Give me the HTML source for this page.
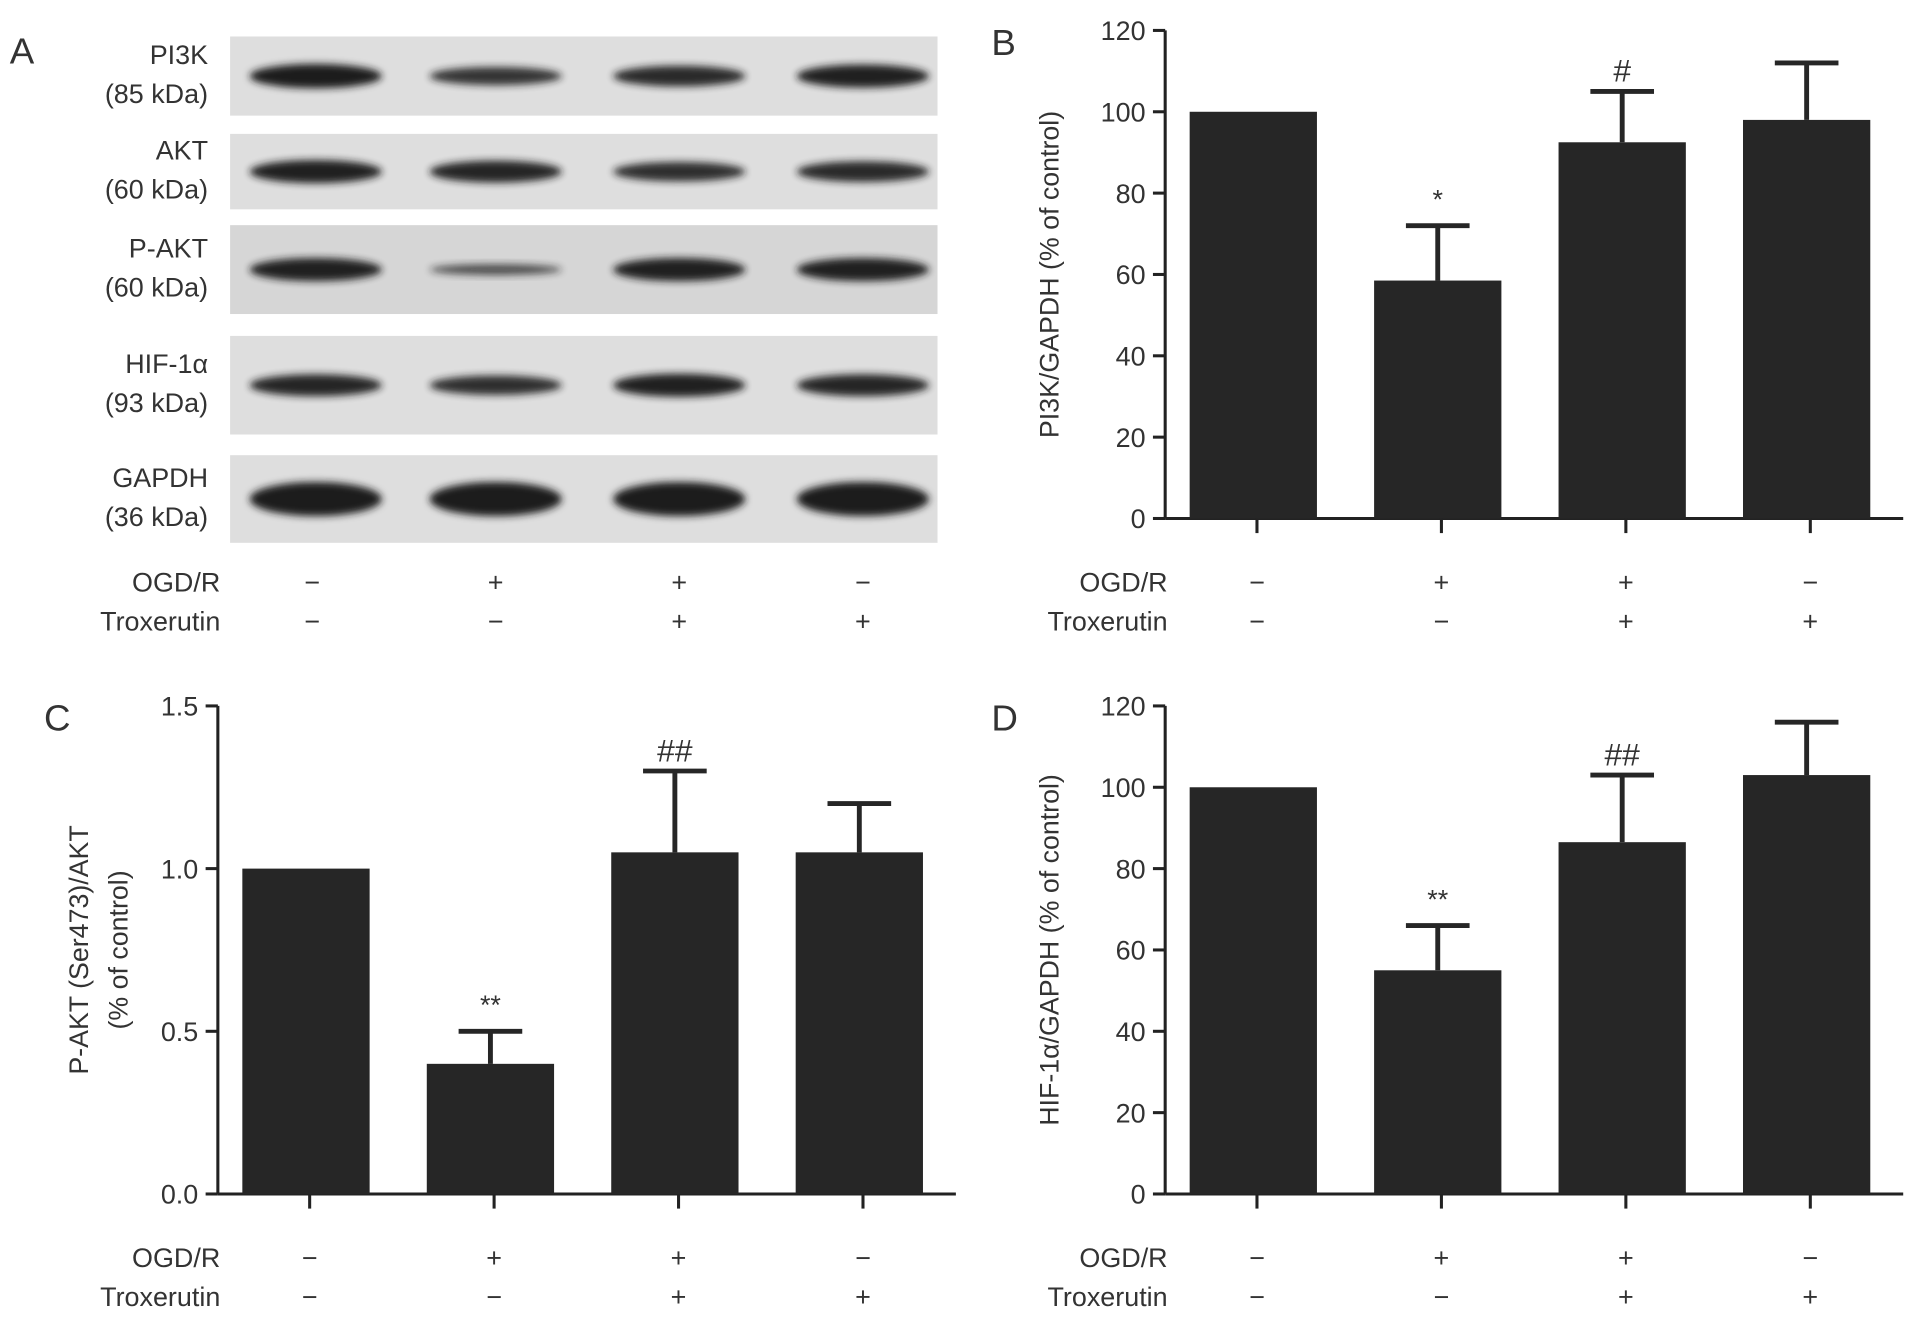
<!DOCTYPE html>
<html><head><meta charset="utf-8"><style>
html,body{margin:0;padding:0;background:#fff;}
svg{display:block;}
text{font-family:"Liberation Sans",sans-serif;fill:#333;}
</style></head><body>
<svg id="fig" width="1913" height="1323" viewBox="0 0 1563 1087" preserveAspectRatio="none" xmlns="http://www.w3.org/2000/svg">
<defs>
<filter id="blur" x="-20%" y="-50%" width="140%" height="200%"><feGaussianBlur stdDeviation="3"/></filter>
</defs>
<g id="blots"></g>
<g id="charts"></g>
</svg>
<script>
const groups=["Control","OGD/R","OGD/R+Troxerutin","Troxerutin"];
const ogdSigns=["−","+","+","−"];
const troxSigns=["−","−","+","+"];
const pi3kValues=[100,58.5,92.5,98];
const pi3kErrors=[0,13.5,12.5,14];
const pi3kMarks=["","*","#",""];
const paktValues=[1.0,0.4,1.05,1.05];
const paktErrors=[0,0.1,0.25,0.15];
const paktMarks=["","**","##",""];
const hifValues=[100,55,86.5,103];
const hifErrors=[0,11,16.5,13];
const hifMarks=["","**","##",""];
const ticks120=[0,20,40,60,80,100,120];
const ticks15=["0.0","0.5","1.0","1.5"];
const blotRows=["PI3K","AKT","P-AKT","HIF-1α","GAPDH"];
const blotMW=["(85 kDa)","(60 kDa)","(60 kDa)","(93 kDa)","(36 kDa)"];
const blotIntensity=[[1,0.75,0.85,0.95],[0.95,0.9,0.8,0.85],[0.95,0.45,0.95,0.95],[0.9,0.8,0.95,0.9],[1,1,1,1]];

const NS="http://www.w3.org/2000/svg";
function mk(tag,attrs,parent,txt){const e=document.createElementNS(NS,tag);for(const k in attrs)e.setAttribute(k,attrs[k]);if(txt!==undefined)e.textContent=txt;parent.appendChild(e);return e;}

const blots=document.getElementById('blots');
const strips=[[30,95],[110,172],[185,258],[276,357],[374,446]];
const laneX=[255,405,555,705];
blotRows.forEach((r,i)=>{
  const [y0,y1]=strips[i];
  const s=mk('rect',{x:188,y:y0,width:578,height:y1-y0,fill:i==2?'#d6d6d6':'#dedede'},blots);
  
  
  const cy=(y0+y1)/2;
  laneX.forEach((x,j)=>{
    const k=blotIntensity[i][j];
    const b=mk('ellipse',{cx:x+(j==0?3:0),cy:cy,rx:54,ry:(i==4?14:10)*k,fill:'#1a1a1a',opacity:0.5+0.5*k,filter:'url(#blur)'},blots);
    
    
  });
  const t1=mk('text',{x:170,y:cy-10,'text-anchor':'end','font-size':22},blots,r);
  
  
  const t2=mk('text',{x:170,y:cy+22,'text-anchor':'end','font-size':22},blots,blotMW[i]);
  
  
});

const charts=document.getElementById('charts');
function conditionRows(parent,xs,labX,y){
  const a=mk('text',{x:labX,y:y,'text-anchor':'end','font-size':22},parent,'OGD/R');
  
  
  const b=mk('text',{x:labX,y:y+32,'text-anchor':'end','font-size':22},parent,'Troxerutin');
  
  
  xs.forEach((x,i)=>{
    const s1=mk('text',{x:x,y:y,'text-anchor':'middle','font-size':22},parent,ogdSigns[i]);
    
    
    const s2=mk('text',{x:x,y:y+32,'text-anchor':'middle','font-size':22},parent,troxSigns[i]);
    
    
  });
}
conditionRows(blots,laneX,180,486);
const pA=mk('text',{x:8,y:52,'font-size':30},charts,'A');



function barChart(o){
  const g=mk('g',{},charts);
  
  
  const yS=v=>o.yBot-(v-o.min)/(o.max-o.min)*(o.yBot-o.yTop);
  const xs=[0,1,2,3].map(i=>o.x0+75+i*150.7);
  const ya=mk('line',{x1:o.x0,y1:o.yTop,x2:o.x0,y2:o.yBot,stroke:'#222','stroke-width':2.5},g);
  
  
  const xa=mk('line',{x1:o.x0,y1:o.yBot,x2:o.x0+603,y2:o.yBot,stroke:'#222','stroke-width':2.5},g);
  
  
  o.ticks.forEach(t=>{
    const v=parseFloat(t), y=yS(v);
    mk('line',{x1:o.x0-10,y1:y,x2:o.x0,y2:y,stroke:'#222','stroke-width':2.5},g);
    const tl=mk('text',{x:o.x0-16,y:y+8,'text-anchor':'end','font-size':22},g,String(t));
    
    
  });
  o.values.forEach((v,i)=>{
    const x=xs[i];
    mk('line',{x1:x,y1:o.yBot,x2:x,y2:o.yBot+12,stroke:'#222','stroke-width':2.5},g);
    const top=yS(v);
    const bx=x-3;
    const b=mk('rect',{x:bx-52,y:top,width:104,height:o.yBot-top,fill:'#262626'},g);
    
    
    if(o.errors[i]>0){
      const et=yS(v+o.errors[i]);
      const e=mk('path',{d:`M${bx},${top} V${et} M${bx-26},${et} H${bx+26}`,stroke:'#262626','stroke-width':4,fill:'none'},g);
      
      
      if(o.marks[i]){
        const m=mk('text',{x:bx,y:et-(o.marks[i].includes('#')?8:14),'text-anchor':'middle','font-size':o.marks[i].includes('#')?26:22},g,o.marks[i]);
        
        
      }
    }
  });
  const cy=(o.yTop+o.yBot)/2;
  o.title.forEach((t,k)=>{
    const tx=o.titleX+k*32;
    const tt=mk('text',{x:tx,y:cy,'text-anchor':'middle','font-size':22,transform:`rotate(-90 ${tx} ${cy})`},g,t);
    
    
  });
  const pl=mk('text',{x:o.x0-142,y:o.yTop+20,'font-size':30},g,o.letter);
  
  
  conditionRows(g,xs,o.x0+2,o.yBot+60);
}
barChart({name:'chart-pi3k',letter:'B',x0:952,yTop:25,yBot:426,min:0,max:120,ticks:ticks120,values:pi3kValues,errors:pi3kErrors,marks:pi3kMarks,title:['PI3K/GAPDH (% of control)'],titleX:865});
barChart({name:'chart-pakt',letter:'C',x0:178,yTop:580,yBot:981,min:0,max:1.5,ticks:ticks15,values:paktValues,errors:paktErrors,marks:paktMarks,title:['P-AKT (Ser473)/AKT','(% of control)'],titleX:72});
barChart({name:'chart-hif',letter:'D',x0:952,yTop:580,yBot:981,min:0,max:120,ticks:ticks120,values:hifValues,errors:hifErrors,marks:hifMarks,title:['HIF-1α/GAPDH (% of control)'],titleX:865});
</script>
</body></html>
